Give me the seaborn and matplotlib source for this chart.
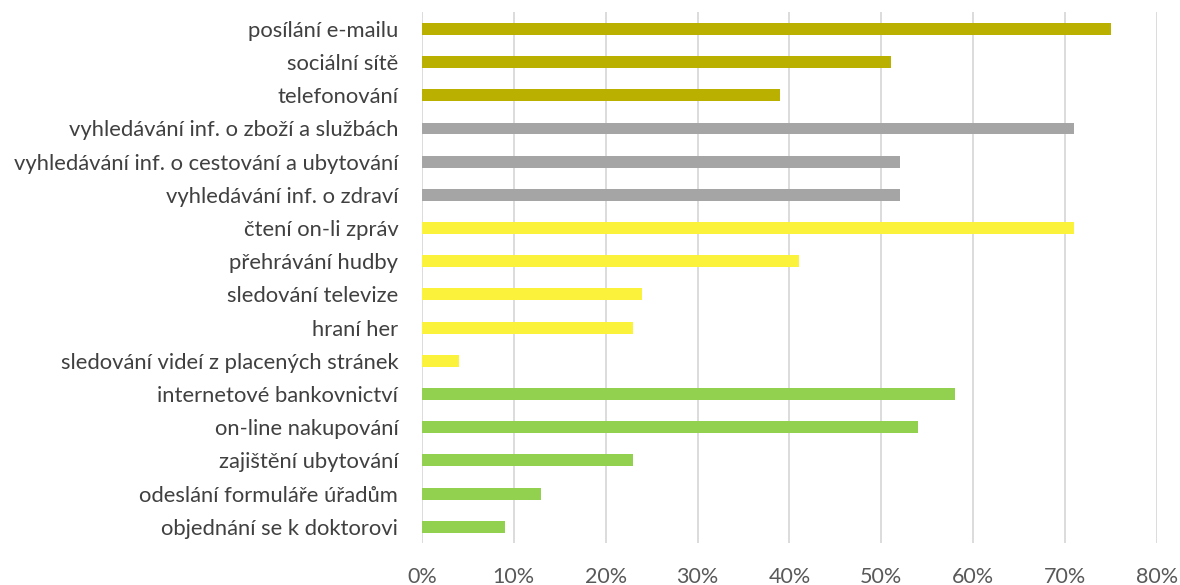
import matplotlib
matplotlib.use("Agg")
import matplotlib.pyplot as plt
import seaborn as sns
import pandas as pd
from matplotlib.ticker import PercentFormatter

activities = [
    "posílání e-mailu", "sociální sítě", "telefonování",
    "vyhledávání inf. o zboží a službách",
    "vyhledávání inf. o cestování a ubytování",
    "vyhledávání inf. o zdraví",
    "čtení on-li zpráv", "přehrávání hudby", "sledování televize",
    "hraní her", "sledování videí z placených stránek",
    "internetové bankovnictví", "on-line nakupování",
    "zajištění ubytování", "odeslání formuláře úřadům",
    "objednání se k doktorovi",
]
shares = [75, 51, 39, 71, 52, 52, 71, 41, 24, 23, 4, 58, 54, 23, 13, 9]
groups = ["komunikace"] * 3 + ["informace"] * 3 + ["zábava"] * 5 + ["služby"] * 5
group_colors = {
    "komunikace": "#BAB000",
    "informace": "#A5A5A5",
    "zábava": "#FBF33B",
    "služby": "#92D050",
}

df = pd.DataFrame({"activity": activities, "share": shares, "group": groups})

sns.set_style("white")
plt.rcParams["font.family"] = ["Lato", "DejaVu Sans"]

fig = plt.figure(figsize=(11.8, 5.85), dpi=100)
ax = fig.add_axes([0.3576, 0.071, 0.6229, 0.908])

sns.barplot(data=df, x="share", y="activity", hue="group", palette=group_colors,
            dodge=False, width=0.36, saturation=1, linewidth=0,
            legend=False, ax=ax, order=activities)

ax.set_xlim(0, 80)
ax.set_xticks(range(0, 81, 10))
ax.xaxis.set_major_formatter(PercentFormatter(decimals=0))
ax.grid(axis="x", color="#D9D9D9", linewidth=1.3)
ax.set_axisbelow(True)
for s in ax.spines.values():
    s.set_visible(False)
ax.set_xlabel("")
ax.set_ylabel("")
ax.tick_params(axis="x", length=0, pad=17, labelsize=15.5, labelcolor="#595959")
ax.tick_params(axis="y", length=0, pad=17, labelsize=15.8, labelcolor="#404040")

fig.savefig("out.png", dpi=100)
